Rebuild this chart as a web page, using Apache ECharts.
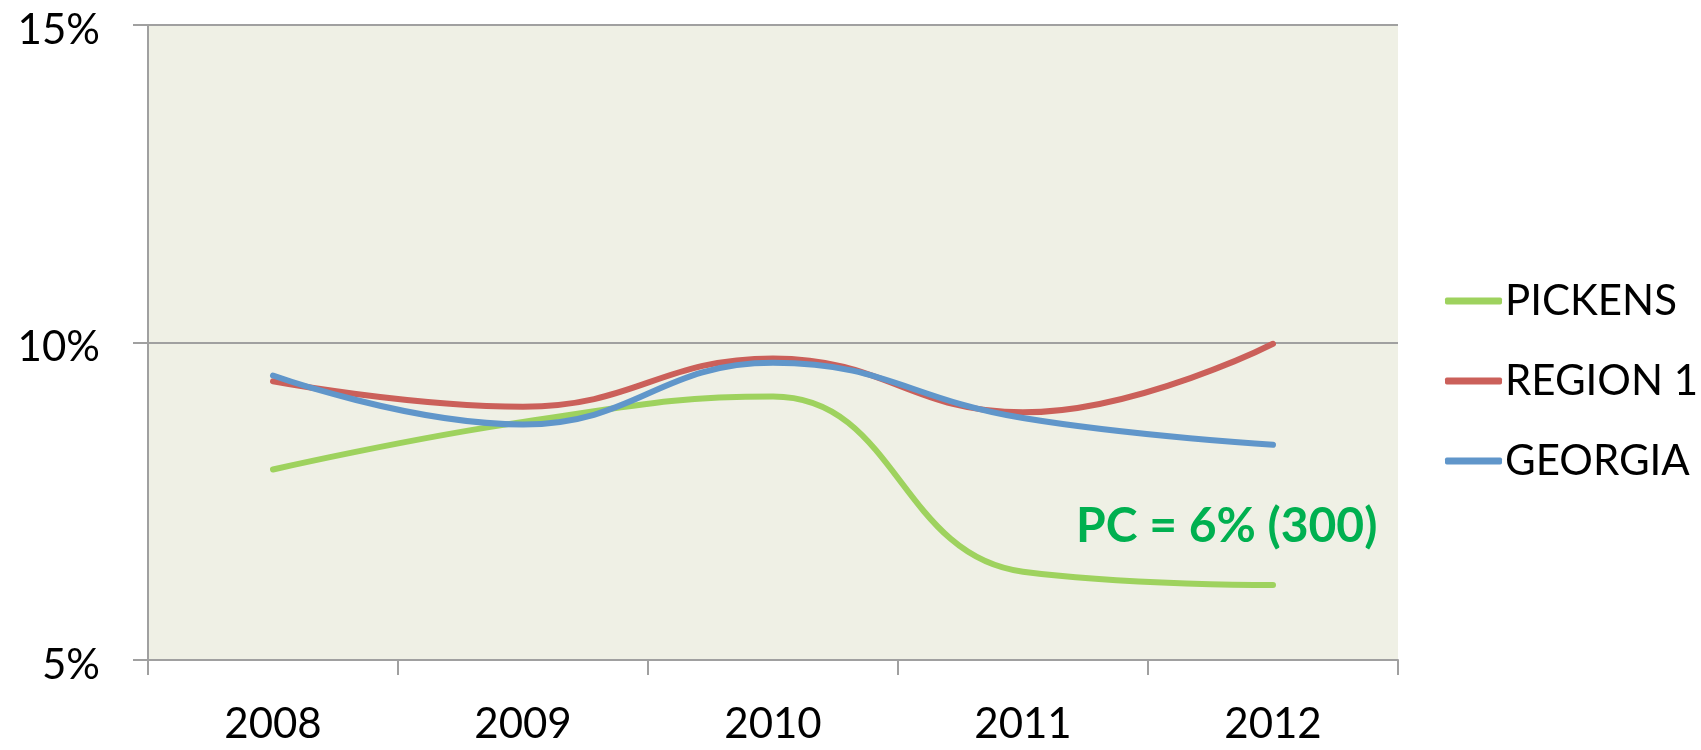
<!DOCTYPE html>
<html>
<head>
<meta charset="utf-8">
<script src="https://cdn.jsdelivr.net/npm/echarts@6/dist/echarts.min.js"></script>
<style>
  html, body { margin: 0; padding: 0; background: #fff; }
  #chart { width: 1701px; height: 750px; }
</style>
</head>
<body>
<div id="chart"></div>
<script>
// categories on the x axis
var years = ['2008', '2009', '2010', '2011', '2012']
// percentages
var pickens = [8.0, 8.75, 9.15, 6.39, 6.18]
var region1 = [9.39, 8.99, 9.75, 8.9, 9.98]
var georgia = [9.48, 8.71, 9.68, 8.81, 8.39]
var seriesNames = ['PICKENS', 'REGION 1', 'GEORGIA']
var seriesColors = ['#9ED25E', '#CB605A', '#6096CA']
var note = 'PC = 6% (300)'

var chart = echarts.init(document.getElementById('chart'))

function lineSeries(name, data, color) {
  return {
    name: name,
    type: 'line',
    data: data,
    smooth: 0.45,
    symbol: 'none',
    lineStyle: { color: color, width: 6, cap: 'round', join: 'round' },
    itemStyle: { color: color },
    animation: false
  }
}

chart.setOption({
  textStyle: { fontFamily: 'Lato' },
  grid: {
    left: 148,
    right: 303,
    top: 25,
    bottom: 90,
    show: true,
    backgroundColor: '#EFF0E5',
    borderWidth: 0
  },
  legend: {
    orient: 'vertical',
    left: 1440,
    top: 275,
    itemWidth: 57,
    itemHeight: 7,
    itemGap: 38,
    icon: 'roundRect',
    textStyle: { fontSize: 42, color: '#000', lineHeight: 41, padding: [0, 0, 0, -2] },
    data: seriesNames
  },
  xAxis: {
    type: 'category',
    data: years,
    boundaryGap: true,
    axisLine: { lineStyle: { color: '#A0A0A0', width: 2 } },
    axisTick: { show: true, length: 15, lineStyle: { color: '#A0A0A0', width: 2 } },
    axisLabel: { fontSize: 42, color: '#000', margin: 43 }
  },
  yAxis: {
    type: 'value',
    min: 5,
    max: 15,
    interval: 5,
    axisLine: { show: true, lineStyle: { color: '#A0A0A0', width: 2 } },
    axisTick: { show: true, length: 15, lineStyle: { color: '#A0A0A0', width: 2 } },
    splitLine: { show: true, lineStyle: { color: '#A0A0A0', width: 2 } },
    axisLabel: {
      color: '#000',
      margin: 48,
      formatter: '{a|{value}%}',
      rich: { a: { fontSize: 42, color: '#000', fontFamily: 'Lato', padding: [10, 0, 0, 0] } }
    }
  },
  graphic: [{
    type: 'text',
    left: 1076,
    top: 503,
    style: {
      text: note,
      fill: '#00B050',
      font: 'bold 48px Lato'
    }
  }],
  series: [
    lineSeries(seriesNames[0], pickens, seriesColors[0]),
    lineSeries(seriesNames[1], region1, seriesColors[1]),
    lineSeries(seriesNames[2], georgia, seriesColors[2])
  ]
})
</script>
</body>
</html>
